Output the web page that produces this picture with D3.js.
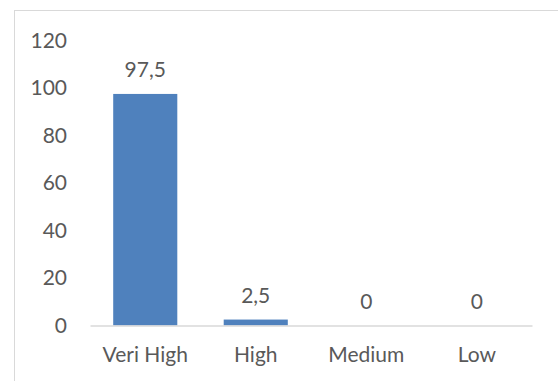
<!DOCTYPE html>
<html>
<head>
<meta charset="utf-8">
<script src="https://cdn.jsdelivr.net/npm/d3@7"></script>
<style>
  html, body { margin: 0; padding: 0; background: #ffffff; }
  svg { display: block; }
  text { font-family: Lato, "Open Sans", sans-serif; fill: #595959; }
</style>
</head>
<body>
<svg id="chart" width="558" height="381"></svg>
<script>
// Response levels and their shares
const categories = ["Veri High", "High", "Medium", "Low"];
const values = [97.5, 2.5, 0, 0];
const valueLabels = ["97,5", "2,5", "0", "0"];
const yTicks = [0, 20, 40, 60, 80, 100, 120];

const svg = d3.select("#chart");
const W = 558, H = 381;
const FONT = "Lato, 'Open Sans', sans-serif";
const FS = 21;

// chart area frame (only top and left edges fall inside the view)
svg.append("rect")
  .attr("x", 14.5).attr("y", 10.5)
  .attr("width", W - 14).attr("height", H)
  .attr("fill", "#ffffff")
  .attr("stroke", "#d9d9d9")
  .attr("stroke-width", 1);

const plot = { left: 90, right: 532, top: 40.5, bottom: 325.5 };

const x = d3.scaleBand()
  .domain(categories)
  .range([plot.left, plot.right])
  .paddingInner(0.42)
  .paddingOuter(0.21);

const y = d3.scaleLinear()
  .domain([0, 120])
  .range([plot.bottom, plot.top]);

// y axis: labels only, no line or tick marks
const yAxis = svg.append("g")
  .attr("transform", `translate(${plot.left},0)`)
  .call(d3.axisLeft(y).tickValues(yTicks).tickSize(0).tickPadding(23).tickFormat(d3.format("d")));
yAxis.select(".domain").remove();
yAxis.selectAll("text")
  .attr("font-size", FS)
  .attr("font-family", FONT)
  .attr("fill", "#595959");

// bars
svg.append("g")
  .selectAll("rect")
  .data(values)
  .join("rect")
  .attr("x", (d, i) => x(categories[i]))
  .attr("width", x.bandwidth())
  .attr("y", d => y(d))
  .attr("height", d => y(0) - y(d))
  .attr("fill", "#4f81bd");

// x axis baseline and category labels
const xAxis = svg.append("g")
  .attr("transform", `translate(0,${plot.bottom})`)
  .call(d3.axisBottom(x).tickSize(0).tickPadding(22));
xAxis.select(".domain")
  .attr("stroke", "#d9d9d9")
  .attr("stroke-width", 1.5);
xAxis.selectAll("text")
  .attr("font-size", FS)
  .attr("font-family", FONT)
  .attr("fill", "#595959");

// value labels above bars
svg.append("g")
  .selectAll("text")
  .data(values)
  .join("text")
  .attr("x", (d, i) => x(categories[i]) + x.bandwidth() / 2)
  .attr("y", d => y(d) - 17)
  .attr("text-anchor", "middle")
  .attr("font-size", FS)
  .attr("font-family", FONT)
  .text((d, i) => valueLabels[i]);
</script>
</body>
</html>
